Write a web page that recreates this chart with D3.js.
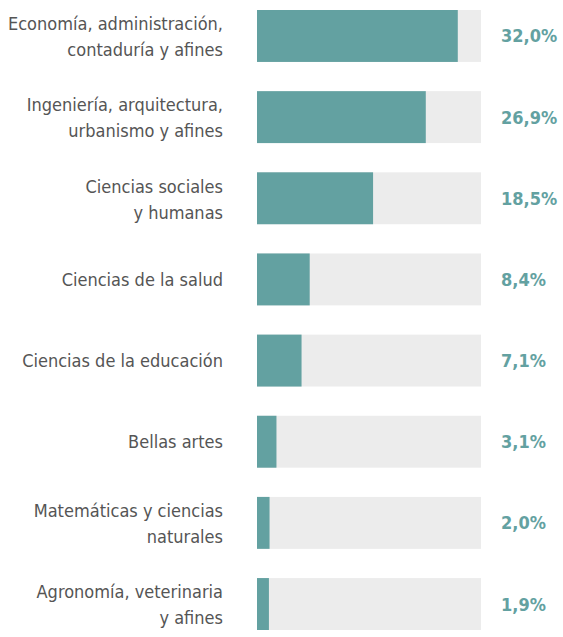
<!DOCTYPE html>
<html>
<head>
<meta charset="utf-8">
<script src="https://cdn.jsdelivr.net/npm/d3@7"></script>
<style>
  body { margin: 0; background: #fff; }
  svg { display: block; }
</style>
</head>
<body>
<div id="chart"></div>
<script>
// categories (each label split into its printed lines)
var categories = [
  ["Economía, administración,", "contaduría y afines"],
  ["Ingeniería, arquitectura,", "urbanismo y afines"],
  ["Ciencias sociales", "y humanas"],
  ["Ciencias de la salud"],
  ["Ciencias de la educación"],
  ["Bellas artes"],
  ["Matemáticas y ciencias", "naturales"],
  ["Agronomía, veterinaria", "y afines"]
];
var values = [32.0, 26.9, 18.5, 8.4, 7.1, 3.1, 2.0, 1.9];
var valueLabels = ["32,0%", "26,9%", "18,5%", "8,4%", "7,1%", "3,1%", "2,0%", "1,9%"];
var maxValue = 35.7; // full length of the grey track

var width = 563, height = 637;
var margin = { left: 257, right: 82, top: 10, bottom: 7 };
var teal = "#63a1a1";
var track = "#ececec";

var svg = d3.select("#chart").append("svg")
  .attr("width", width)
  .attr("height", height);

var idx = d3.range(categories.length);

var x = d3.scaleLinear()
  .domain([0, maxValue])
  .range([margin.left, width - margin.right]);

var y = d3.scaleBand()
  .domain(idx)
  .range([margin.top, height - margin.bottom])
  .paddingInner(0.36)
  .paddingOuter(0);

var rows = svg.selectAll(".row")
  .data(idx)
  .enter()
  .append("g")
    .attr("class", "row");

// grey background track
rows.append("rect")
  .attr("x", x(0))
  .attr("y", function(i) { return y(i); })
  .attr("width", x(maxValue) - x(0))
  .attr("height", y.bandwidth())
  .attr("fill", track);

// value bar
rows.append("rect")
  .attr("x", x(0))
  .attr("y", function(i) { return y(i); })
  .attr("width", function(i) { return x(values[i]) - x(0); })
  .attr("height", y.bandwidth())
  .attr("fill", teal);

// category labels, right aligned
var lineH = 26;
rows.append("text")
  .attr("text-anchor", "end")
  .style("font-family", "'DejaVu Sans Condensed', 'DejaVu Sans', sans-serif")
  .style("font-stretch", "condensed")
  .style("font-size", "18px")
  .attr("fill", "#555")
  .each(function(i) {
    var lines = categories[i];
    var cy = y(i) + y.bandwidth() / 2 + (lines.length > 1 ? 1 : 0);
    var t = d3.select(this);
    lines.forEach(function(s, k) {
      t.append("tspan")
        .attr("x", 223)
        .attr("y", cy + (k - (lines.length - 1) / 2) * lineH)
        .attr("dy", "0.35em")
        .text(s);
    });
  });

// value labels
rows.append("text")
  .attr("x", 501)
  .attr("y", function(i) { return y(i) + y.bandwidth() / 2; })
  .attr("dy", "0.36em")
  .style("font-family", "'DejaVu Sans Condensed', 'DejaVu Sans', sans-serif")
  .style("font-stretch", "condensed")
  .style("font-weight", "bold")
  .style("font-size", "18px")
  .attr("fill", teal)
  .text(function(i) { return valueLabels[i]; });
</script>
</body>
</html>
